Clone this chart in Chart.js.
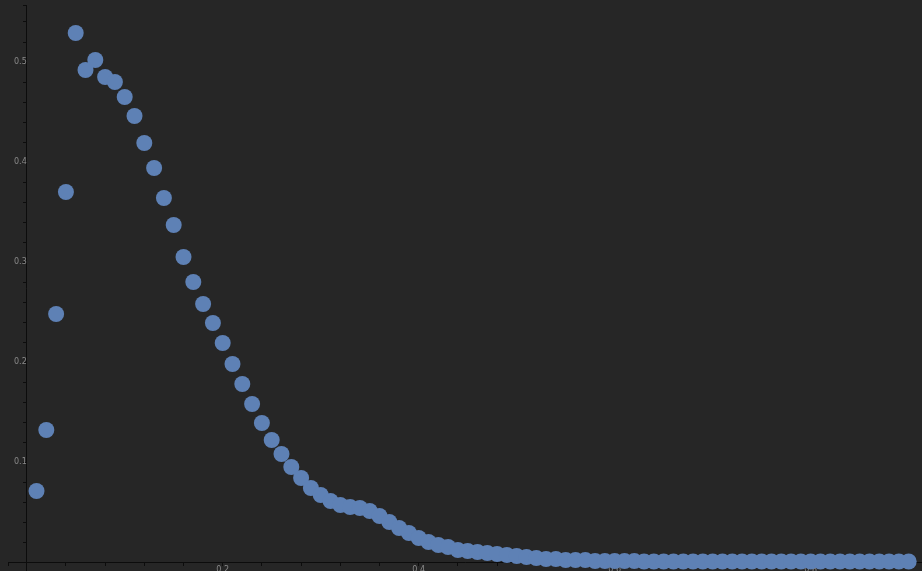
<!DOCTYPE html>
<html lang="en">
<head>
    <title>Scatter Chart</title>
    <style>
        html, body { margin: 0; padding: 0; background: #262626; overflow: hidden; }
        #myChart { display: block; }
    </style>
</head>
<body>
<canvas id="myChart" width="922" height="571"></canvas>
<script src="https://cdn.jsdelivr.net/npm/chart.js"></script>
<script>
    // sample positions along x
    var xValues = [0.01, 0.02, 0.03, 0.04, 0.05, 0.06, 0.07, 0.08, 0.09, 0.10,
        0.11, 0.12, 0.13, 0.14, 0.15, 0.16, 0.17, 0.18, 0.19, 0.20,
        0.21, 0.22, 0.23, 0.24, 0.25, 0.26, 0.27, 0.28, 0.29, 0.30,
        0.31, 0.32, 0.33, 0.34, 0.35, 0.36, 0.37, 0.38, 0.39, 0.40,
        0.41, 0.42, 0.43, 0.44, 0.45, 0.46, 0.47, 0.48, 0.49, 0.50,
        0.51, 0.52, 0.53, 0.54, 0.55, 0.56, 0.57, 0.58, 0.59, 0.60,
        0.61, 0.62, 0.63, 0.64, 0.65, 0.66, 0.67, 0.68, 0.69, 0.70,
        0.71, 0.72, 0.73, 0.74, 0.75, 0.76, 0.77, 0.78, 0.79, 0.80,
        0.81, 0.82, 0.83, 0.84, 0.85, 0.86, 0.87, 0.88, 0.89, 0.90];
    // values
    var yValues = [0.071, 0.132, 0.248, 0.370, 0.529, 0.492, 0.502, 0.485, 0.480, 0.465,
        0.446, 0.419, 0.394, 0.364, 0.337, 0.305, 0.280, 0.258, 0.239, 0.219,
        0.198, 0.178, 0.158, 0.139, 0.122, 0.108, 0.095, 0.084, 0.074, 0.067,
        0.061, 0.057, 0.055, 0.054, 0.051, 0.046, 0.040, 0.034, 0.029, 0.024,
        0.020, 0.017, 0.015, 0.012, 0.011, 0.010, 0.009, 0.008, 0.007, 0.006,
        0.005, 0.004, 0.003, 0.003, 0.002, 0.002, 0.002, 0.001, 0.001, 0.001,
        0.001, 0.001, 0.0005, 0.0005, 0.0005, 0.0005, 0.0005, 0.0005, 0.0005, 0.0005,
        0.0005, 0.0005, 0.0005, 0.0005, 0.0005, 0.0005, 0.0005, 0.0005, 0.0005, 0.0005,
        0.0005, 0.0005, 0.0005, 0.0005, 0.0005, 0.0005, 0.0005, 0.0005, 0.0005, 0.0005];
    var xLabeled = [0.2, 0.4, 0.6, 0.8];
    var yLabeled = [0.1, 0.2, 0.3, 0.4, 0.5];

    var points = [];
    for (var i = 0; i < xValues.length; i++) {
        points.push({x: xValues[i], y: yValues[i]});
    }

    function isLabeled(v, list) {
        for (var k = 0; k < list.length; k++) {
            if (Math.abs(v - list[k]) < 1e-6) return true;
        }
        return false;
    }

    // axes cross inside the plot, so they should not eat any room
    function noPadding(scale) {
        scale.paddingLeft = 0;
        scale.paddingRight = 0;
        scale.paddingTop = 0;
        scale.paddingBottom = 0;
    }

    var ctx = document.getElementById('myChart').getContext('2d');
    var myChart = new Chart(ctx, {
        type: 'scatter',
        data: {
            datasets: [{
                data: points,
                backgroundColor: '#5e81b5',
                borderWidth: 0,
                pointRadius: 8,
                pointHoverRadius: 8,
                clip: false
            }]
        },
        options: {
            responsive: false,
            animation: false,
            layout: { padding: { left: 8, top: 5, right: 0, bottom: 0 }, autoPadding: false },
            plugins: { legend: { display: false }, tooltip: { enabled: false } },
            scales: {
                x: {
                    type: 'linear',
                    position: { y: 0 },
                    min: -0.0191,
                    max: 0.9136,
                    afterFit: noPadding,
                    border: { color: '#0c0c0c', width: 1 },
                    grid: { drawOnChartArea: false, color: '#0c0c0c', tickLength: 3 },
                    ticks: {
                        stepSize: 0.04,
                        autoSkip: false,
                        maxRotation: 0,
                        padding: 0,
                        color: '#8a8a8a',
                        font: { family: 'DejaVu Sans', size: 8 },
                        callback: function (v) { return isLabeled(v, xLabeled) ? v.toFixed(1) : ''; }
                    }
                },
                y: {
                    type: 'linear',
                    position: { x: 0 },
                    min: -0.009,
                    max: 0.557,
                    afterFit: noPadding,
                    border: { color: '#0c0c0c', width: 1 },
                    grid: { drawOnChartArea: false, color: '#0c0c0c', tickLength: 3 },
                    ticks: {
                        stepSize: 0.02,
                        autoSkip: false,
                        padding: 1,
                        color: '#8a8a8a',
                        font: { family: 'DejaVu Sans', size: 8 },
                        callback: function (v) { return isLabeled(v, yLabeled) ? v.toFixed(1) : ''; }
                    }
                }
            }
        }
    });
</script>
</body>
</html>
